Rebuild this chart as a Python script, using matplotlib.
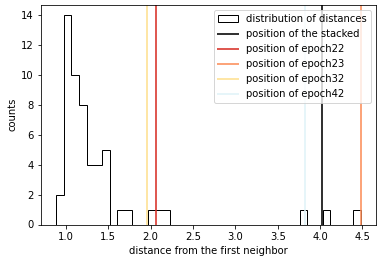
import numpy as np
import matplotlib
matplotlib.use("Agg")
import matplotlib.pyplot as plt

# histogram of nearest-neighbour distances (40 bins between min and max)
dist_min = 0.885
dist_max = 4.48
counts = [2, 14, 10, 8, 4, 4, 5, 0, 1, 1,
          0, 0, 1, 1, 1, 0, 0, 0, 0, 0,
          0, 0, 0, 0, 0, 0, 0, 0, 0, 0,
          0, 0, 1, 0, 0, 1, 0, 0, 0, 1]

# positions of the individual epochs
pos_stacked = 4.02
epoch_names = ["epoch22", "epoch23", "epoch32", "epoch42"]
epoch_pos = [2.065, 4.48, 1.96, 3.82]
epoch_colors = ["#d73027", "#fc8d59", "#fee090", "#e0f3f8"]

edges = np.linspace(dist_min, dist_max, len(counts) + 1)
centers = 0.5 * (edges[:-1] + edges[1:])

fig = plt.figure(figsize=(382 / 72, 262 / 72), dpi=72)
ax = fig.add_axes([41 / 382, 1 - 224.5 / 262, 335 / 382, 219.5 / 262])

ax.hist(centers, bins=edges, weights=counts, histtype="step", color="black",
        label="distribution of distances")
ax.axvline(pos_stacked, color="black", alpha=0.8, lw=2, label="position of the stacked")
for name, x, c in zip(epoch_names, epoch_pos, epoch_colors):
    ax.axvline(x, color=c, alpha=0.8, lw=2, label="position of " + name)

ax.set_xlabel("distance from the first neighbor")
ax.set_ylabel("counts")
ax.legend(loc="upper right")

fig.savefig("out.png", dpi=72)
